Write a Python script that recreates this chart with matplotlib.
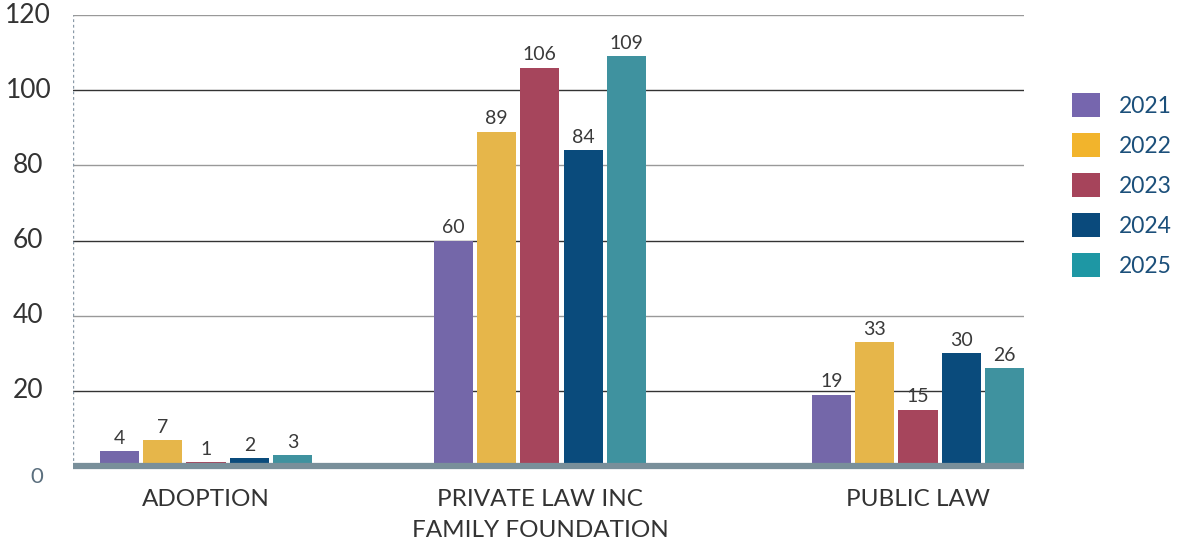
import matplotlib
matplotlib.use("Agg")
import matplotlib.pyplot as plt
from matplotlib.patches import Patch
from matplotlib import transforms

plt.rcParams['font.family'] = ['Lato', 'DejaVu Sans']

# data
categories = ["ADOPTION", "PRIVATE LAW INC\nFAMILY FOUNDATION", "PUBLIC LAW"]
years = ["2021", "2022", "2023", "2024", "2025"]
values = {
    "2021": [4, 60, 19],
    "2022": [7, 89, 33],
    "2023": [1, 106, 15],
    "2024": [2, 84, 30],
    "2025": [3, 109, 26],
}
yticks = [0, 20, 40, 60, 80, 100, 120]

# styling
bar_colors = ["#7467a9", "#e6b64a", "#a6455c", "#0a4b7c", "#3f929f"]
legend_colors = ["#7666ae", "#f2b42c", "#a6445b", "#0a4a7c", "#1e97a4"]
group_x = [0, 0.938, 2]
bar_w = 0.11
step = 0.1216

fig = plt.figure(figsize=(11.87, 5.44), dpi=100)
ax = fig.add_axes([0.0615, 0.1434, 0.8012, 0.829])

for i, yr in enumerate(years):
    off = (i - 2) * step
    xs = [g + off for g in group_x]
    bars = ax.bar(xs, values[yr], width=bar_w, color=bar_colors[i], zorder=3)
    for b, v in zip(bars, values[yr]):
        ax.annotate(str(v), (b.get_x() + b.get_width() / 2, v),
                    xytext=(0, 3), textcoords="offset points",
                    ha="center", va="bottom", fontsize=14, color="#3a3a3a", zorder=4)

ax.set_xlim(-0.3736, 2.298)
ax.set_ylim(0, 120)

# alternating gridlines
for t in yticks[1:]:
    col = "#333333" if (t // 20) % 2 == 1 else "#999999"
    ax.axhline(t, color=col, lw=1.0, zorder=1)

# thick baseline and dotted left edge
ax.axhline(0, color="#798f9a", lw=4.5, zorder=5, clip_on=False, solid_capstyle="butt")
ax.axvline(ax.get_xlim()[0], color="#8a9aa8", lw=1, ls=(0, (2, 2)), zorder=2)

for s in ax.spines.values():
    s.set_visible(False)
ax.set_xticks([])
ax.set_yticks([])

# y tick labels
ytrans = ax.get_yaxis_transform()
for t in yticks:
    if t == 0:
        ax.text(-0.038, t, "0", transform=ytrans + transforms.ScaledTranslation(0, -11 / 100, fig.dpi_scale_trans),
                ha="center", va="center", fontsize=16, color="#5b6f7e", clip_on=False)
    else:
        ax.text(-0.047, t, str(t), transform=ytrans, ha="center", va="center",
                fontsize=19, color="#333333", clip_on=False)

# category labels
xtrans = ax.get_xaxis_transform()
for g, lab in zip(group_x, categories):
    ax.text(g, -0.05, lab, transform=xtrans, ha="center", va="top",
            fontsize=17.5, color="#333333", linespacing=1.62, clip_on=False)

handles = [Patch(facecolor=c, edgecolor="none") for c in legend_colors]
leg = fig.legend(handles, years, loc="center left", bbox_to_anchor=(0.886, 0.66),
                 frameon=False, fontsize=16.5, handlelength=1.2, handleheight=1.2,
                 handletextpad=0.85, labelspacing=0.72, labelcolor="#1b4f7a")

fig.savefig("out.png", dpi=100)
